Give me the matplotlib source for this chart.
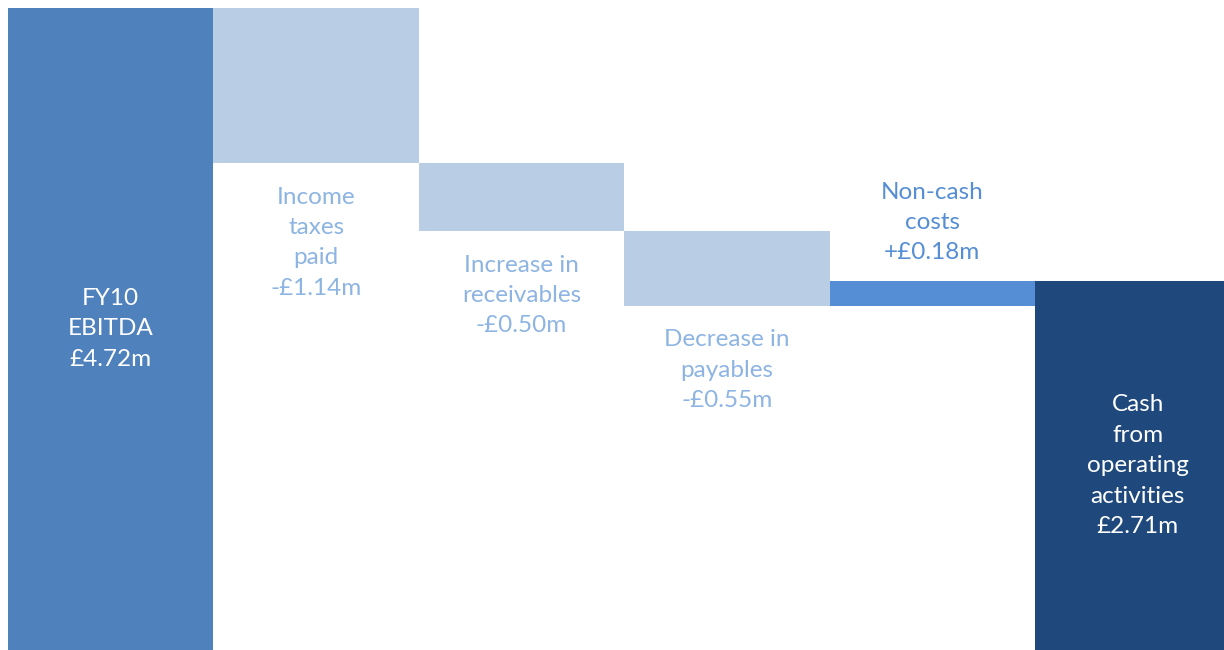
import matplotlib.pyplot as plt

plt.rcParams['font.family'] = ['Lato', 'DejaVu Sans']

# waterfall steps (£m)
labels = ['FY10\nEBITDA', 'Income\ntaxes\npaid', 'Increase in\nreceivables',
          'Decrease in\npayables', 'Non-cash\ncosts', 'Cash\nfrom\noperating\nactivities']
start_value = 4.72
changes = [-1.14, -0.50, -0.55, 0.18]
end_value = 2.71
value_text = ['£4.72m', '-£1.14m', '-£0.50m', '-£0.55m', '+£0.18m', '£2.71m']

c_total = '#4F81BD'
c_down = '#B9CDE5'
c_up = '#558ED5'
c_end = '#1F497D'
c_down_text = '#8DB4E2'

fig = plt.figure(figsize=(12.24, 6.5), dpi=100)
ax = fig.add_axes([8 / 1224, 0, 1216 / 1224, 642 / 650])

fs = 17.5
ls = 1.55

# first total bar
ax.bar(0, start_value, width=1, color=c_total, linewidth=0)
ax.text(0, start_value / 2, labels[0] + '\n' + value_text[0], ha='center', va='center',
        color='white', fontsize=fs, linespacing=ls)

level = start_value
for i, ch in enumerate(changes, start=1):
    new_level = level + ch
    lo, hi = min(level, new_level), max(level, new_level)
    col = c_down if ch < 0 else c_up
    ax.bar(i, hi - lo, bottom=lo, width=1, color=col, linewidth=0)
    txt = labels[i] + '\n' + value_text[i]
    if ch < 0:
        ax.annotate(txt, (i, lo), xytext=(0, -17), textcoords='offset points',
                    ha='center', va='top', color=c_down_text, fontsize=fs, linespacing=ls)
    else:
        ax.annotate(txt, (i, hi), xytext=(0, 13), textcoords='offset points',
                    ha='center', va='bottom', color=c_up, fontsize=fs, linespacing=ls)
    level = new_level

# final total bar
ax.bar(5, end_value, width=1, color=c_end, linewidth=0)
ax.text(5, end_value / 2, labels[5] + '\n' + value_text[5], ha='center', va='center',
        color='white', fontsize=fs, linespacing=ls)

ax.set_xlim(-0.5, 5.42)
ax.set_ylim(0, start_value)
ax.axis('off')

fig.savefig('out.png', dpi=100)
